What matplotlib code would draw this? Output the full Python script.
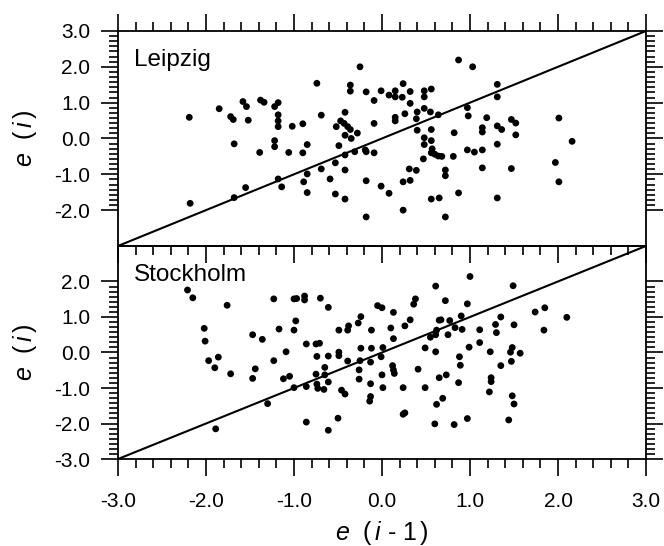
import matplotlib
matplotlib.use("Agg")
import matplotlib.pyplot as plt
from matplotlib.ticker import FixedLocator, MultipleLocator, FormatStrFormatter

plt.rcParams['font.family'] = ['Liberation Sans', 'DejaVu Sans']
plt.rcParams['mathtext.fontset'] = 'custom'
plt.rcParams['mathtext.rm'] = 'Liberation Sans'
plt.rcParams['mathtext.it'] = 'Liberation Sans:italic'
plt.rcParams['axes.unicode_minus'] = False

# residuals e(i-1) vs e(i)
leipzig_prev = [-2.19, -2.18, -1.85, -1.72, -1.69, -1.68, -1.68, -1.58, -1.54, -1.52, -1.55, -1.38, -1.34, -1.39,
                -1.22, -1.18, -1.18, -1.18, -1.18, -1.22, -1.22, -1.18, -1.14, -1.06, -1.02, -0.90, -0.90, -0.85,
                -0.89, -0.85, -0.85, -0.74, -0.69, -0.69, -0.59, -0.53, -0.53, -0.42, -0.42, -0.49, -0.42, -0.52,
                -0.47, -0.42, -0.43, -0.39, -0.36, -0.42, -0.35, -0.28, -0.36, -0.36, -0.25, -0.18, -0.09, -0.09,
                -0.31, -0.19, -0.18, -0.09, -0.18, -0.18,
                -0.01, -0.01, 0.08, 0.08, 0.15, 0.15, 0.23, 0.24, 0.32, 0.32, 0.26, 0.15, 0.15, 0.24, 0.32, 0.24,
                0.31, 0.39, 0.40, 0.39, 0.40, 0.48, 0.48, 0.56, 0.48, 0.55, 0.64, 0.56, 0.48, 0.48, 0.56, 0.57,
                0.56, 0.60, 0.64, 0.68, 0.47, 0.72, 0.72, 0.56, 0.65, 0.72, 0.82, 0.81, 0.87, 0.87, 1.03, 0.97,
                0.98, 0.97, 1.05, 1.14, 1.14, 1.14, 1.14, 1.19, 1.31, 1.31, 1.31, 1.36, 1.31, 1.31, 1.47, 1.52,
                1.52, 1.47, 1.97, 2.01, 2.01, 2.16]
leipzig_curr = [0.59, -1.81, 0.83, 0.61, 0.53, -0.15, -1.65, 1.03, 0.89, 0.51, -1.37, 1.07, 1.01, -0.39,
                0.89, 1.00, 0.66, 0.49, 0.33, -0.06, -0.23, -1.13, -1.35, -0.39, 0.34, 0.41, -0.40, -0.17,
                -1.21, -0.99, -1.51, 1.54, 0.65, -0.85, -1.13, -1.55, -0.68, -1.69, -0.88, -0.20, -0.46, 0.33,
                0.49, 0.73, 0.42, 0.33, 0.25, 0.09, 0.00, 0.15, 1.49, 1.32, 2.00, 1.30, 1.06, 0.42,
                -0.37, -0.32, -0.37, -0.40, -1.18, -2.19,
                1.33, -1.33, 1.21, -1.53, 1.33, 1.16, 1.15, 1.53, 1.31, 0.98, 0.69, 0.59, 0.49, -1.21, -1.17, -2.00,
                -0.85, -0.89, 0.74, 0.55, 0.23, 1.33, 1.16, 1.38, 0.84, 0.74, 0.66, 0.25, 0.02, -0.17, -0.06, -0.29,
                -0.40, -0.44, -0.49, -0.50, -0.57, -0.88, -1.04, -1.69, -1.66, -2.19, 0.16, -0.50, 2.19, -1.52, 2.00, 0.86,
                0.63, -0.32, -0.38, 0.30, 0.18, -0.32, -0.82, 0.58, 1.51, 1.16, 0.35, 0.25, -0.16, -1.66, 0.53, 0.43,
                0.10, -0.84, -0.67, 0.57, -1.21, -0.08]

stockholm_prev = [-2.21, -2.15, -1.76, -2.02, -2.01, -1.97, -1.86, -1.90, -1.72, -1.89, -1.47, -1.36, -1.44, -1.47,
                  -1.30, -1.23, -1.17, -1.23, -1.12, -1.05, -1.09, -1.00, -0.97, -0.88, -0.88, -0.70, -0.61, -0.98,
                  -1.00, -0.86, -0.75, -0.71, -0.74, -0.61, -0.65, -0.75, -0.65, -0.61, -0.74, -0.73, -0.66, -0.86,
                  -1.00, -0.86, -0.61, -0.50, -0.49, -0.39, -0.38, -0.27, -0.24, -0.12, -0.05, -0.24, -0.12, -0.49,
                  -0.49, -0.39, -0.25, -0.13, -0.26, -0.26, -0.13, -0.46, -0.42, -0.13, -0.14,
                  0.00, 0.01, -0.01, 0.00, 0.01, 0.10, 0.13, 0.13, 0.12, 0.13, 0.14, 0.24, 0.24, 0.26, 0.26, 0.32,
                  0.36, 0.38, 0.41, 0.49, 0.49, 0.55, 0.61, 0.62, 0.65, 0.67, 0.61, 0.72, 0.61, 0.75, 0.77, 0.83,
                  0.90, 0.91, 0.97, 1.00, 0.99, 0.88, 0.89, 0.87, 0.65, 0.73, 0.69, 0.62, 0.60, 0.82, 0.97, 1.11,
                  1.11, 1.23, 1.24, 1.24, 1.22, 1.29, 1.30, 1.35, 1.35, 1.49, 1.50, 1.48, 1.46, 1.57, 1.47, 1.48,
                  1.50, 1.44, 1.74, 1.85, 1.84, 2.10]
stockholm_curr = [1.76, 1.54, 1.33, 0.68, 0.32, -0.23, -0.13, -0.43, -0.60, -2.15, 0.50, 0.37, -0.46, -0.73,
                  -1.44, 1.51, 0.66, -0.23, -0.74, -0.67, 0.02, 1.51, 1.52, 1.59, 1.48, 1.53, 1.27, 0.89,
                  0.63, 0.24, 0.24, 0.26, -0.11, -0.10, -0.42, -0.61, -0.63, -0.83, -0.89, -1.01, -1.04, -0.96,
                  -0.99, -1.96, -2.19, -1.85, 0.63, 0.63, 0.75, 0.83, 1.01, 0.63, 1.32, 0.12, 0.12, 0.01,
                  -0.09, -0.24, -0.23, -0.27, -0.49, -0.75, -0.88, -1.06, -1.17, -1.24, -1.37,
                  1.26, 0.14, -0.12, -0.63, -0.99, 0.69, 1.13, 0.39, -0.37, -0.49, -0.59, -0.99, -1.74, -1.70, 0.75, 0.92,
                  1.36, 1.51, -0.47, 0.13, -0.99, 0.43, 0.50, 0.63, 0.91, 0.92, 1.87, 1.46, 0.02, 0.50, 0.90, 0.70,
                  1.03, 0.65, 1.37, 2.14, 0.15, -0.12, -0.36, -0.85, -0.71, -0.63, -1.29, -1.46, -2.01, -2.03, -1.86, 0.64,
                  0.28, 0.02, -0.71, -0.82, -1.11, 0.79, 0.56, 1.00, -0.37, 1.88, 0.78, 0.14, 0.01, -0.02, -0.25, -1.22,
                  -1.45, -1.90, 1.14, 1.26, 0.63, 0.99]

panels = [("Leipzig", leipzig_prev, leipzig_curr),
          ("Stockholm", stockholm_prev, stockholm_curr)]
diag = [-3, 3]


def minor_steps(lo, hi, n):
    vals = []
    for k in range(lo, hi):
        vals += [k + j / n for j in range(1, n)]
    return vals


fig = plt.figure(figsize=(6.64, 5.46), dpi=100)
ax1 = fig.add_axes([0.1777, 0.5495, 0.7952, 0.3938])
ax2 = fig.add_axes([0.1777, 0.1593, 0.7952, 0.3902])
ax2.patch.set_visible(False)

for ax, (name, xs, ys) in zip([ax1, ax2], panels):
    ax.plot(diag, diag, color='black', lw=1.5, zorder=2)
    ax.scatter(xs, ys, s=24, color='black', edgecolors='none', zorder=3)
    ax.set_xlim(-3, 3)
    ax.set_ylim(-3, 3)
    ax.xaxis.set_major_locator(MultipleLocator(1))
    ax.xaxis.set_minor_locator(MultipleLocator(0.2))
    ax.xaxis.set_major_formatter(FormatStrFormatter('%.1f'))
    ax.yaxis.set_major_formatter(FormatStrFormatter('%.1f'))
    for sp in ax.spines.values():
        sp.set_linewidth(1.3)
    ax.tick_params(which='both', direction='out', width=1.2, left=True, right=True,
                   labelsize=15, colors='black')
    ax.tick_params(which='major', length=12)
    ax.tick_params(which='minor', length=6.5)
    ax.tick_params(axis='y', pad=8)
    ax.text(0.03, 0.835, name, transform=ax.transAxes, fontsize=17.5, va='baseline', ha='left')
    ax.set_ylabel(r'$e\ \ (\,i\,)$', fontsize=18)
    ax.yaxis.set_label_coords(-0.15, 0.5)

ax1.yaxis.set_major_locator(FixedLocator([-2, -1, 0, 1, 2, 3]))
ax1.yaxis.set_minor_locator(FixedLocator(minor_steps(-2, 3, 7)))
ax2.yaxis.set_major_locator(FixedLocator([-3, -2, -1, 0, 1, 2]))
ax2.yaxis.set_minor_locator(FixedLocator(minor_steps(-3, 2, 7)))

# top panel carries the ticks on the shared middle edge, pointing down
ax1.tick_params(axis='x', which='both', top=True, bottom=True, labelbottom=False)
ax2.tick_params(axis='x', which='both', top=False, bottom=True, pad=12)

ax2.set_xlabel(r'$e\ \ (\,i\ \mathrm{‐}\ 1\,)$', fontsize=18)
ax2.xaxis.set_label_coords(0.5, -0.28)

fig.savefig('out.png', dpi=100)
